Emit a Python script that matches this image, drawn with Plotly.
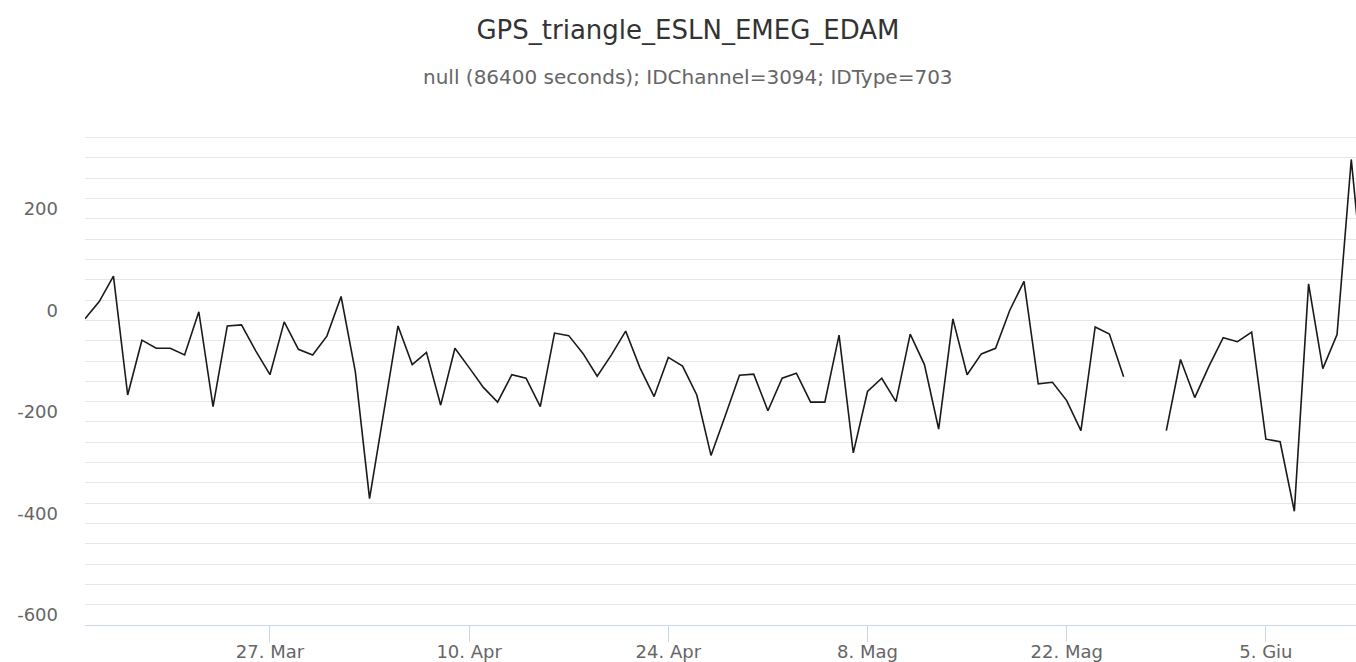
import pandas as pd
import plotly.graph_objects as go

title_text = "GPS_triangle_ESLN_EMEG_EDAM"
subtitle_text = "null (86400 seconds); IDChannel=3094; IDType=703"

start_date = "2017-03-14"
values = [
    -17, 17, 67, -167, -59, -75, -75, -88, -3, -190,
    -31, -29, -80, -127, -23, -77, -88, -51, 27, -121,
    -371, -200, -31, -107, -83, -187, -75, -113, -152, -181,
    -127, -134, -190, -45, -50, -85, -130, -88, -41, -113,
    -170, -93, -110, -167, -286, -208, -128, -126, -198, -134,
    -124, -181, -181, -49, -281, -160, -134, -180, -47, -107,
    -234, -17, -127, -86, -75, 0, 57, -145, -142, -178,
    -237, -33, -47, -131, None, None, -237, -97, -172, -110,
    -54, -62, -43, -254, -259, -396, 52, -115, -48, 297,
    10,
]
dates = pd.date_range(start_date, periods=len(values), freq="D")

x_tick_dates = ["2017-03-27", "2017-04-10", "2017-04-24", "2017-05-08", "2017-05-22", "2017-06-05"]
x_tick_labels = ["27. Mar", "10. Apr", "24. Apr", "8. Mag", "22. Mag", "5. Giu"]
y_tick_vals = [-600, -400, -200, 0, 200]
y_tick_labels = ["-600", "-400", "-200", "0", "200"]
grid_vals = list(range(-620, 381, 40))

W, H = 1356, 662
ML, MR, MT, MB = 85, 0, 117, 37
PW, PH = W - ML - MR, H - MT - MB
CENTER_X = 688

fig = go.Figure()
fig.add_trace(go.Scatter(
    x=dates, y=values, mode="lines",
    line=dict(color="#1a1a1a", width=1.6),
    connectgaps=False, hoverinfo="x+y",
))

font_family = "DejaVu Sans, Verdana, sans-serif"
fig.update_layout(
    width=W, height=H,
    margin=dict(l=ML, r=MR, t=MT, b=MB, autoexpand=False),
    paper_bgcolor="white", plot_bgcolor="white",
    showlegend=False,
    font=dict(family=font_family, color="#666666", size=18),
    title=dict(text=title_text, x=CENTER_X / W, xanchor="center", xref="container",
               y=1 - 30 / H, yanchor="middle", yref="container",
               font=dict(size=26, color="#333333", family=font_family)),
    annotations=[dict(text=subtitle_text, xref="paper", yref="paper",
                      x=(CENTER_X - ML) / PW, y=(H - 77 - MB) / PH,
                      xanchor="center", yanchor="middle", showarrow=False,
                      font=dict(size=20, color="#666666", family=font_family))],
    xaxis=dict(
        type="date", automargin=False,
        range=["2017-03-14 00:00", "2017-06-11 08:00"],
        tickvals=x_tick_dates, ticktext=x_tick_labels,
        showgrid=False, zeroline=False,
        showline=True, linecolor="#ccd6eb", linewidth=1,
        ticks="outside", ticklen=16, tickcolor="#ccd6eb", tickwidth=1,
        ticklabelstandoff=-6,
        tickfont=dict(size=18, color="#666666"),
    ),
    yaxis=dict(
        range=[-620, 380.6], automargin=False,
        tickvals=y_tick_vals, ticktext=y_tick_labels,
        showgrid=False, zeroline=False, showline=False,
        ticks="", ticklabelstandoff=26,
        tickfont=dict(size=18, color="#666666"),
        minor=dict(tickvals=grid_vals, showgrid=True, gridcolor="#e6e6e6", gridwidth=1, ticks=""),
    ),
)

fig.write_html("out.html", config={"displayModeBar": False},
               post_script="document.body.style.margin='0px';")
